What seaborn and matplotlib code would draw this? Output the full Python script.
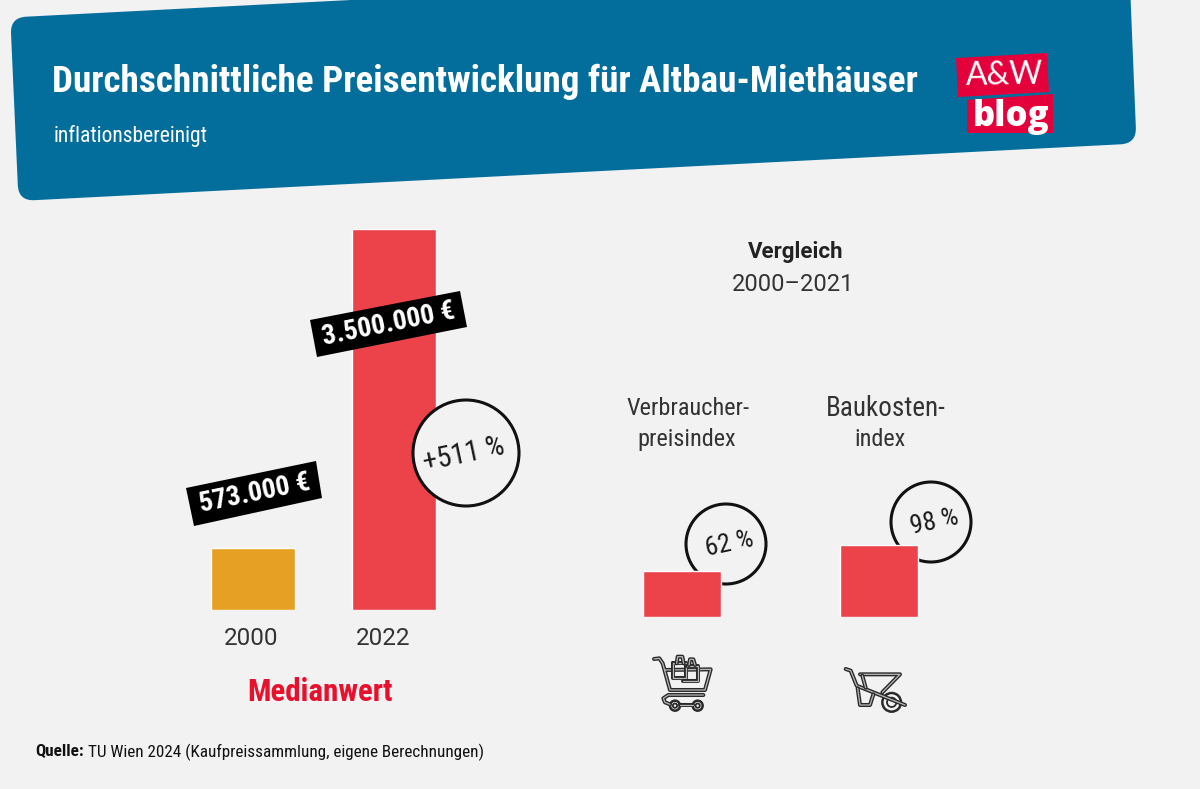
import matplotlib
matplotlib.use("Agg")
import matplotlib.pyplot as plt
import matplotlib.patheffects as pe
from matplotlib.path import Path
from matplotlib.patches import PathPatch, Circle, Polygon
from matplotlib.transforms import ScaledTranslation
from math import hypot
import seaborn as sns

# ---- data ----
median_years = ["2000", "2022"]
median_values = [573000, 3500000]
median_labels = ["573.000 €", "3.500.000 €"]
index_names = ["Verbraucherpreisindex", "Baukostenindex"]
index_values = [62, 98]
index_labels = ["62 %", "98 %"]
growth_label = "+511 %"

BG = "#f2f2f2"
BLUE = "#036e9c"
RED = "#ec434b"
AMBER = "#e6a024"
LOGO = "#e4003a"
W, H = 1200, 789

NARROW = ["Roboto Condensed", "Liberation Sans Narrow", "Roboto", "DejaVu Sans"]
ROB = ["Roboto", "DejaVu Sans"]

sns.set_theme(style="white")
fig = plt.figure(figsize=(W / 100, H / 100), dpi=100, facecolor=BG)


def overlay(z):
    a = fig.add_axes([0, 0, 1, 1], zorder=z)
    a.set_xlim(0, W)
    a.set_ylim(H, 0)
    a.axis("off")
    a.patch.set_alpha(0)
    return a


def pixel_axes(l, r, t, b, z=1):
    a = fig.add_axes([l / W, 1 - b / H, (r - l) / W, (b - t) / H], zorder=z)
    a.patch.set_alpha(0)
    return a


under = overlay(0)
over = overlay(3)

# ---- banner ----
TL, BL, BR, TR = (10.3, 17.5), (18.5, 201), (1136.5, 143.5), (1129, -40)


def lerp(p, q, d):
    L = hypot(q[0] - p[0], q[1] - p[1])
    return (p[0] + (q[0] - p[0]) * d / L, p[1] + (q[1] - p[1]) * d / L)


R = 16
verts = [lerp(TL, BL, R), lerp(BL, TL, R), BL, lerp(BL, BR, R), lerp(BR, BL, R), BR,
         lerp(BR, TR, R), TR, lerp(TL, TR, R), TL, lerp(TL, BL, R)]
codes = [Path.MOVETO, Path.LINETO, Path.CURVE3, Path.CURVE3, Path.LINETO, Path.CURVE3, Path.CURVE3,
         Path.LINETO, Path.LINETO, Path.CURVE3, Path.CURVE3]
under.add_patch(PathPatch(Path(verts, codes), fc=BLUE, ec="none"))

under.text(52, 82, "Durchschnittliche Preisentwicklung für Altbau-Miethäuser", color="white",
           fontsize=26.75, fontweight="bold", family=NARROW, va="center", ha="left")
under.text(54, 136, "inflationsbereinigt", color="white", fontsize=15.5, family=NARROW, va="center", ha="left")

# logo
under.add_patch(Polygon([(956, 58), (1047, 53), (1049, 92), (958, 97)], fc=LOGO, ec="none"))
under.add_patch(Polygon([(967, 100), (1053, 94), (1053, 133), (967, 133)], fc=LOGO, ec="none"))
under.text(1004, 75, "A&W", color="white", fontsize=23, family=["Lato", "DejaVu Sans"], fontweight="normal",
           ha="center", va="center", rotation=1)
under.text(1011, 117, "blog", color="white", fontsize=25, family=["Open Sans", "DejaVu Sans"], fontweight=800,
           ha="center", va="center")

# ---- circles behind the index bars ----
for (cx, cy), lab in zip([(726, 544), (931, 522)], index_labels):
    under.add_patch(Circle((cx, cy), 40, fc=BG, ec="#111111", lw=2.2))
    under.text(cx + 3.5, cy + 0.5, lab, fontsize=19, family=NARROW, color="#1a1a1a", rotation=12,
               ha="center", va="center", rotation_mode="anchor")

# ---- median bars ----
ax = pixel_axes(182, 464, 228.5, 610)
sns.barplot(x=median_years, y=median_values, hue=median_years, palette=[AMBER, RED], legend=False,
            width=84 / 141, saturation=1, ax=ax)
ax.set_ylim(0, max(median_values))
ax.set_xlim(-0.5, 1.5)
sns.despine(ax=ax, left=True, bottom=True)
ax.set_yticks([])
ax.tick_params(axis="x", length=0, pad=12, labelsize=17.5, labelcolor="#333333")
fig.canvas.draw()
for t, dx in zip(ax.get_xticklabels(), [-1.5, -10.5]):
    t.set_family(ROB)
    t.set_transform(t.get_transform() + ScaledTranslation(dx / 100, 0, fig.dpi_scale_trans))

# ---- index bars ----
ax2 = pixel_axes(583, 977, 543.5, 617)
sns.barplot(x=index_names, y=index_values, color=RED, width=78 / 197, saturation=1, ax=ax2)
ax2.set_ylim(0, 100)
ax2.set_xlim(-0.5, 1.5)
sns.despine(ax=ax2, left=True, bottom=True)
ax2.set_xticks([])
ax2.set_yticks([])
ax2.set_xlabel("")
ax2.set_ylabel("")

# ---- black value labels and +511 % ----
label_boxes = [[(186, 488), (316, 461), (322, 498), (194, 526)],
               [(310, 320), (460, 291), (467, 327), (317, 357)]]
for box, lab in zip(label_boxes, median_labels):
    over.add_patch(Polygon(box, fc="black", ec="none"))
    x = sum(p[0] for p in box) / 4
    y = sum(p[1] for p in box) / 4
    over.text(x, y, lab, color="white", fontsize=20, fontweight="bold", family=NARROW, rotation=11.5,
              ha="center", va="center", rotation_mode="anchor")
over.add_patch(Circle((466, 453), 53, fc=BG, ec="#111111", lw=2.2))
over.text(464, 455, growth_label, fontsize=21, family=NARROW, color="#1a1a1a", rotation=12, ha="center",
          va="center", rotation_mode="anchor")

# ---- texts ----
over.text(796, 251.5, "Vergleich", fontsize=16, fontweight="bold", family=ROB, color="#222222", ha="center", va="center")
over.text(793.5, 284.5, "2000–2021", fontsize=17, family=ROB, color="#333333", ha="center", va="center")
over.text(688, 408, "Verbraucher-", fontsize=17.5, family=NARROW, color="#333333", ha="center", va="center")
over.text(687, 439, "preisindex", fontsize=17.5, family=NARROW, color="#333333", ha="center", va="center")
over.text(886, 408, "Baukosten-", fontsize=19.5, family=NARROW, color="#333333", ha="center", va="center")
over.text(880, 439, "index", fontsize=17.5, family=NARROW, color="#333333", ha="center", va="center")
over.text(320, 692, "Medianwert", fontsize=22.3, fontweight="bold", family=NARROW, color="#e8112d", ha="center", va="center")

q = over.text(35, 752, "Quelle:", fontsize=12.3, fontweight="bold", family=NARROW, color="#111111", va="center")
fig.canvas.draw()
bb = q.get_window_extent()
over.text(bb.x1 + 4, 752, "TU Wien 2024 (Kaufpreissammlung, eigene Berechnungen)", fontsize=12.3,
          family=NARROW, color="#111111", va="center")


# ---- icons ----
def stroke(points, closed=False):
    xs = [p[0] for p in points]
    ys = [p[1] for p in points]
    if closed:
        xs.append(xs[0])
        ys.append(ys[0])
    over.plot(xs, ys, color="#2a2a2a", lw=2.4, solid_capstyle="round", solid_joinstyle="round",
              path_effects=[pe.Stroke(linewidth=2.9, foreground="#2a2a2a"), pe.Stroke(linewidth=0.9, foreground="#b8b8b8")])


def c(ox, oy, pts):
    return [(ox + x / 3, oy + y / 3) for x, y in pts]


# cart
o = (640, 645)
stroke(c(*o, [(42, 42), (58, 40), (68, 55), (90, 135), (195, 135), (212, 73), (75, 75)]))
stroke(c(*o, [(190, 150), (85, 150), (70, 160), (75, 172), (90, 178)]))
stroke(c(*o, [(120, 180), (158, 180)]))
stroke(c(*o, [(100, 55), (138, 55), (138, 100), (100, 100)]), closed=True)
stroke(c(*o, [(140, 62), (175, 62), (175, 108), (130, 108)]))
stroke(c(*o, [(110, 55), (113, 35), (127, 35), (131, 55)]))
stroke(c(*o, [(147, 60), (150, 43), (160, 43), (165, 60)]))
for cx, cy, r in [(105, 182, 15), (173, 182, 15)]:
    over.add_patch(Circle((o[0] + cx / 3, o[1] + cy / 3), r / 3, fc=BG, ec="#2a2a2a", lw=1.8))
    over.add_patch(Circle((o[0] + cx / 3, o[1] + cy / 3), r / 7, fc=BG, ec="#2a2a2a", lw=1.3))

# wheelbarrow
o = (835, 655)
for cx, cy, r in [(170, 142, 28)]:
    over.add_patch(Circle((o[0] + cx / 3, o[1] + cy / 3), r / 3, fc=BG, ec="#2a2a2a", lw=1.8))
    over.add_patch(Circle((o[0] + cx / 3, o[1] + cy / 3), r / 6, fc=BG, ec="#2a2a2a", lw=1.3))
stroke(c(*o, [(32, 42), (47, 47), (65, 92), (210, 150)]))
stroke(c(*o, [(75, 58), (195, 58), (142, 112)]))
stroke(c(*o, [(82, 62), (92, 98)]))
stroke(c(*o, [(68, 100), (75, 150), (105, 150), (115, 118)]))

fig.savefig("out.png", dpi=100, facecolor=BG)
